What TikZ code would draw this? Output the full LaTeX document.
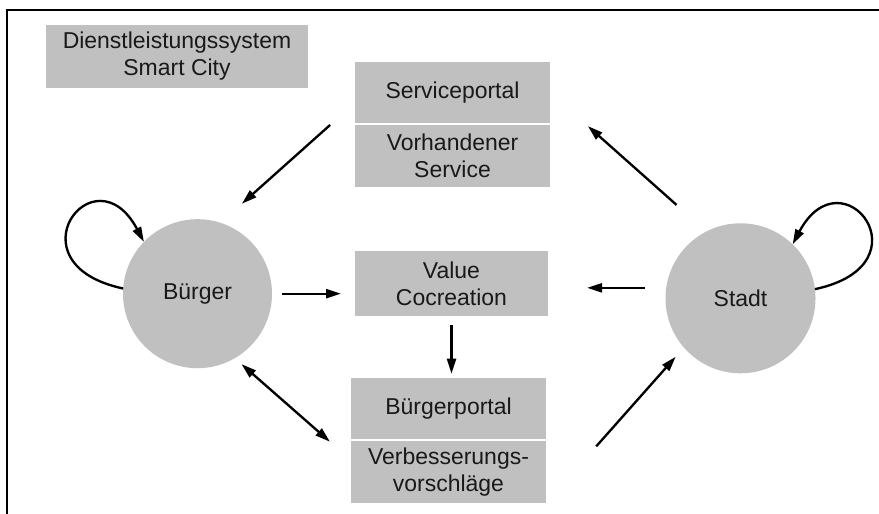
\documentclass[tikz,border=0pt]{standalone}
\usepackage{fontspec}
\setmainfont{Liberation Sans}
\usetikzlibrary{positioning,arrows.meta}
\definecolor{boxgrau}{RGB}{192,192,192}
\tikzset{
  kasten/.style={fill=boxgrau, minimum width=5.85cm, minimum height=1.85cm,
    inner sep=0pt, outer sep=0pt, align=center, text=black!90},
  akteur/.style={circle, fill=boxgrau, minimum size=4.47cm, inner sep=0pt,
    outer sep=0pt, text=black!90},
  spitze/.tip={Triangle[length=4.5mm,width=2.7mm]},
  pfeil/.style={line width=2pt, -spitze},
}

\begin{document}
\begin{tikzpicture}[x=0.03cm,y=0.03cm,font=\fontsize{19.6}{23}\selectfont]
					\useasboundingbox (0,0) rectangle (879,514);
					%RAHMEN
					\draw[line width=2pt] (7,0) -- (7,504) -- (879,504);
					%KAESTEN
					\node[kasten, minimum width=7.86cm, minimum height=1.89cm] (titel) at (177,457.5) {Dienstleistungssystem\\Smart City};
					\node[kasten] (sp) at (452.5,421.5) {Serviceportal};
					\node[kasten, below=0.06cm of sp] (vh) {Vorhandener\\Service};
					\node[kasten, minimum width=5.79cm, minimum height=1.95cm] (value) at (451.5,230.5) {Value\\Cocreation};
					\node[kasten] (bp) at (448.5,105.5) {Bürgerportal};
					\node[kasten, below=0.06cm of bp] (vv) {Verbesserungs-\\vorschläge};
					%AKTEURE
					\node[akteur] (buerger) at (197.5,220.3) {Bürger};
					\node[akteur, minimum size=4.5cm] (stadt) at (740.5,215.7) {Stadt};
					%PFEILE
					\draw[pfeil, shorten <=1cm, shorten >=0.86cm] (sp.186) -- (buerger.72);
					\draw[pfeil, shorten <=1.2cm, shorten >=1.52cm] (stadt.117) -- (sp.east);
					\draw[pfeil, shorten <=0.3cm, shorten >=0.42cm] (buerger.east) -- (value.west |- buerger.east);
					\draw[pfeil, shorten <=0.63cm, shorten >=1.17cm] (stadt.172) -- (value.east |- stadt.172);
					\draw[pfeil, shorten <=0.27cm, shorten >=0.12cm] (value.south) -- (value.south |- bp.north);
					\draw[pfeil, spitze-spitze, shorten <=0.27cm, shorten >=0.84cm] (buerger.-60) -- (vv.173);
					\draw[pfeil, shorten <=2.27cm, shorten >=0.37cm] (vv.south east) -- (stadt.221);
					%SCHLEIFEN
					\draw[pfeil] (buerger.176) .. controls +(168:118) and +(118:106) .. (buerger.136);
					\draw[pfeil] (stadt.7) .. controls +(12:118) and +(62:106) .. (stadt.46);
\end{tikzpicture}
\end{document}
